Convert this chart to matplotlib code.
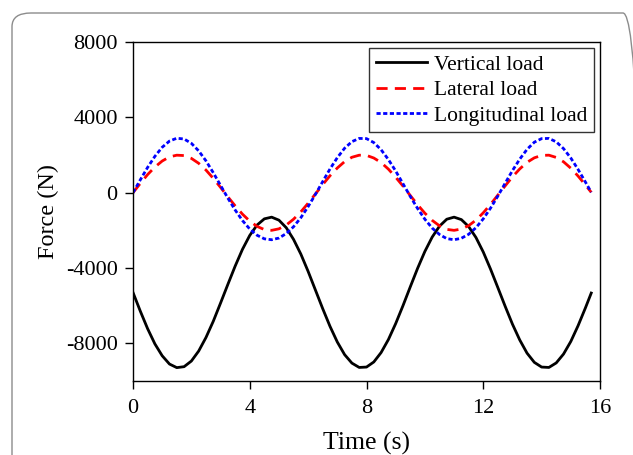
import numpy as np
import matplotlib
matplotlib.use("Agg")
from matplotlib import pyplot as plt
from matplotlib.patches import FancyBboxPatch

plt.rcParams['font.family'] = ['Liberation Serif', 'DejaVu Serif']
plt.rcParams['axes.unicode_minus'] = False

# time (s)
t = [0, 0.25, 0.5, 0.75, 1.0, 1.25, 1.5, 1.75, 2.0, 2.25, 2.5, 2.75, 3.0, 3.25, 3.5, 3.75,
     4.0, 4.25, 4.5, 4.75, 5.0, 5.25, 5.5, 5.75, 6.0, 6.25, 6.5, 6.75, 7.0, 7.25, 7.5, 7.75,
     8.0, 8.25, 8.5, 8.75, 9.0, 9.25, 9.5, 9.75, 10.0, 10.25, 10.5, 10.75, 11.0, 11.25, 11.5, 11.75,
     12.0, 12.25, 12.5, 12.75, 13.0, 13.25, 13.5, 13.75, 14.0, 14.25, 14.5, 14.75, 15.0, 15.25, 15.5, 15.7]

vertical = [-5300, -6290, -7220, -8030, -8660, -9100, -9290, -9240, -8940, -8410, -7690, -6830,
            -5860, -4870, -3900, -3010, -2270, -1720, -1390, -1300, -1460, -1860, -2480, -3260,
            -4180, -5170, -6160, -7100, -7930, -8600, -9050, -9280, -9260, -8990, -8490, -7800,
            -6950, -6000, -5000, -4020, -3120, -2360, -1780, -1410, -1300, -1430, -1800, -2380,
            -3150, -4060, -5040, -6030, -6980, -7820, -8520, -9010, -9260, -9280, -9040, -8570,
            -7900, -7060, -6120, -5330]

lateral = [0, 490, 960, 1360, 1680, 1900, 1990, 1970, 1820, 1560, 1200, 760, 280, -220, -700, -1140,
           -1510, -1790, -1960, -2000, -1920, -1720, -1410, -1020, -560, -70, 430, 900, 1310, 1650,
           1880, 1990, 1980, 1840, 1600, 1250, 820, 350, -150, -640, -1090, -1470, -1760, -1950,
           -2000, -1930, -1750, -1460, -1070, -620, -130, 360, 840, 1260, 1610, 1850, 1980, 1990,
           1870, 1640, 1300, 880, 410, 20]

longitudinal = [0, 680, 1340, 1930, 2410, 2740, 2890, 2850, 2620, 2220, 1690, 1060, 385, -290, -920,
                -1480, -1930, -2260, -2450, -2500, -2410, -2170, -1810, -1330, -740, -90, 590, 1260,
                1860, 2360, 2710, 2880, 2870, 2660, 2280, 1760, 1150, 475, -200, -840, -1410, -1880,
                -2220, -2440, -2500, -2420, -2210, -1860, -1390, -820, -180, 500, 1170, 1780, 2300,
                2680, 2870, 2880, 2700, 2340, 1840, 1230, 565, 20]

fig = plt.figure(figsize=(6.33, 4.55), dpi=100)

# rounded frame around the figure
frame = FancyBboxPatch((12/633, -0.1), 630/633, 1 - 13/455 + 0.1,
                       boxstyle="round,pad=0,rounding_size=0.03",
                       transform=fig.transFigure, fill=False,
                       edgecolor='#8c8c8c', linewidth=1.0)
fig.patches.append(frame)

ax = fig.add_axes([133/633, 1 - 381/455, (600-133)/633, (381-42)/455])

ax.plot(t, vertical, color='black', lw=2.0, label='Vertical load')
ax.plot(t, lateral, color='red', lw=2.0, dashes=(4.0, 2.6), label='Lateral load')
ax.plot(t, longitudinal, color='blue', lw=2.0, dashes=(1.5, 0.9), label='Longitudinal load')

ax.set_xlim(0, 16)
ax.set_ylim(-10000, 8000)
ax.set_xticks([0, 4, 8, 12, 16])
ax.set_yticks([-8000, -4000, 0, 4000, 8000])
ax.tick_params(direction='out', length=6, width=1, labelsize=16, pad=5)
ax.tick_params(axis='x', pad=7)
for s in ax.spines.values():
    s.set_linewidth(1.0)

ax.set_xlabel('Time (s)', fontsize=18.5, labelpad=10)
ax.set_ylabel('Force (N)', fontsize=17.5, labelpad=5)

leg = ax.legend(loc='upper right', fontsize=15.5, frameon=True, fancybox=False,
                edgecolor='black', borderaxespad=0.3, handlelength=2.4,
                labelspacing=0.25, borderpad=0.3, handletextpad=0.3)
leg.get_frame().set_linewidth(1.0)

fig.savefig('out.png', dpi=100)
